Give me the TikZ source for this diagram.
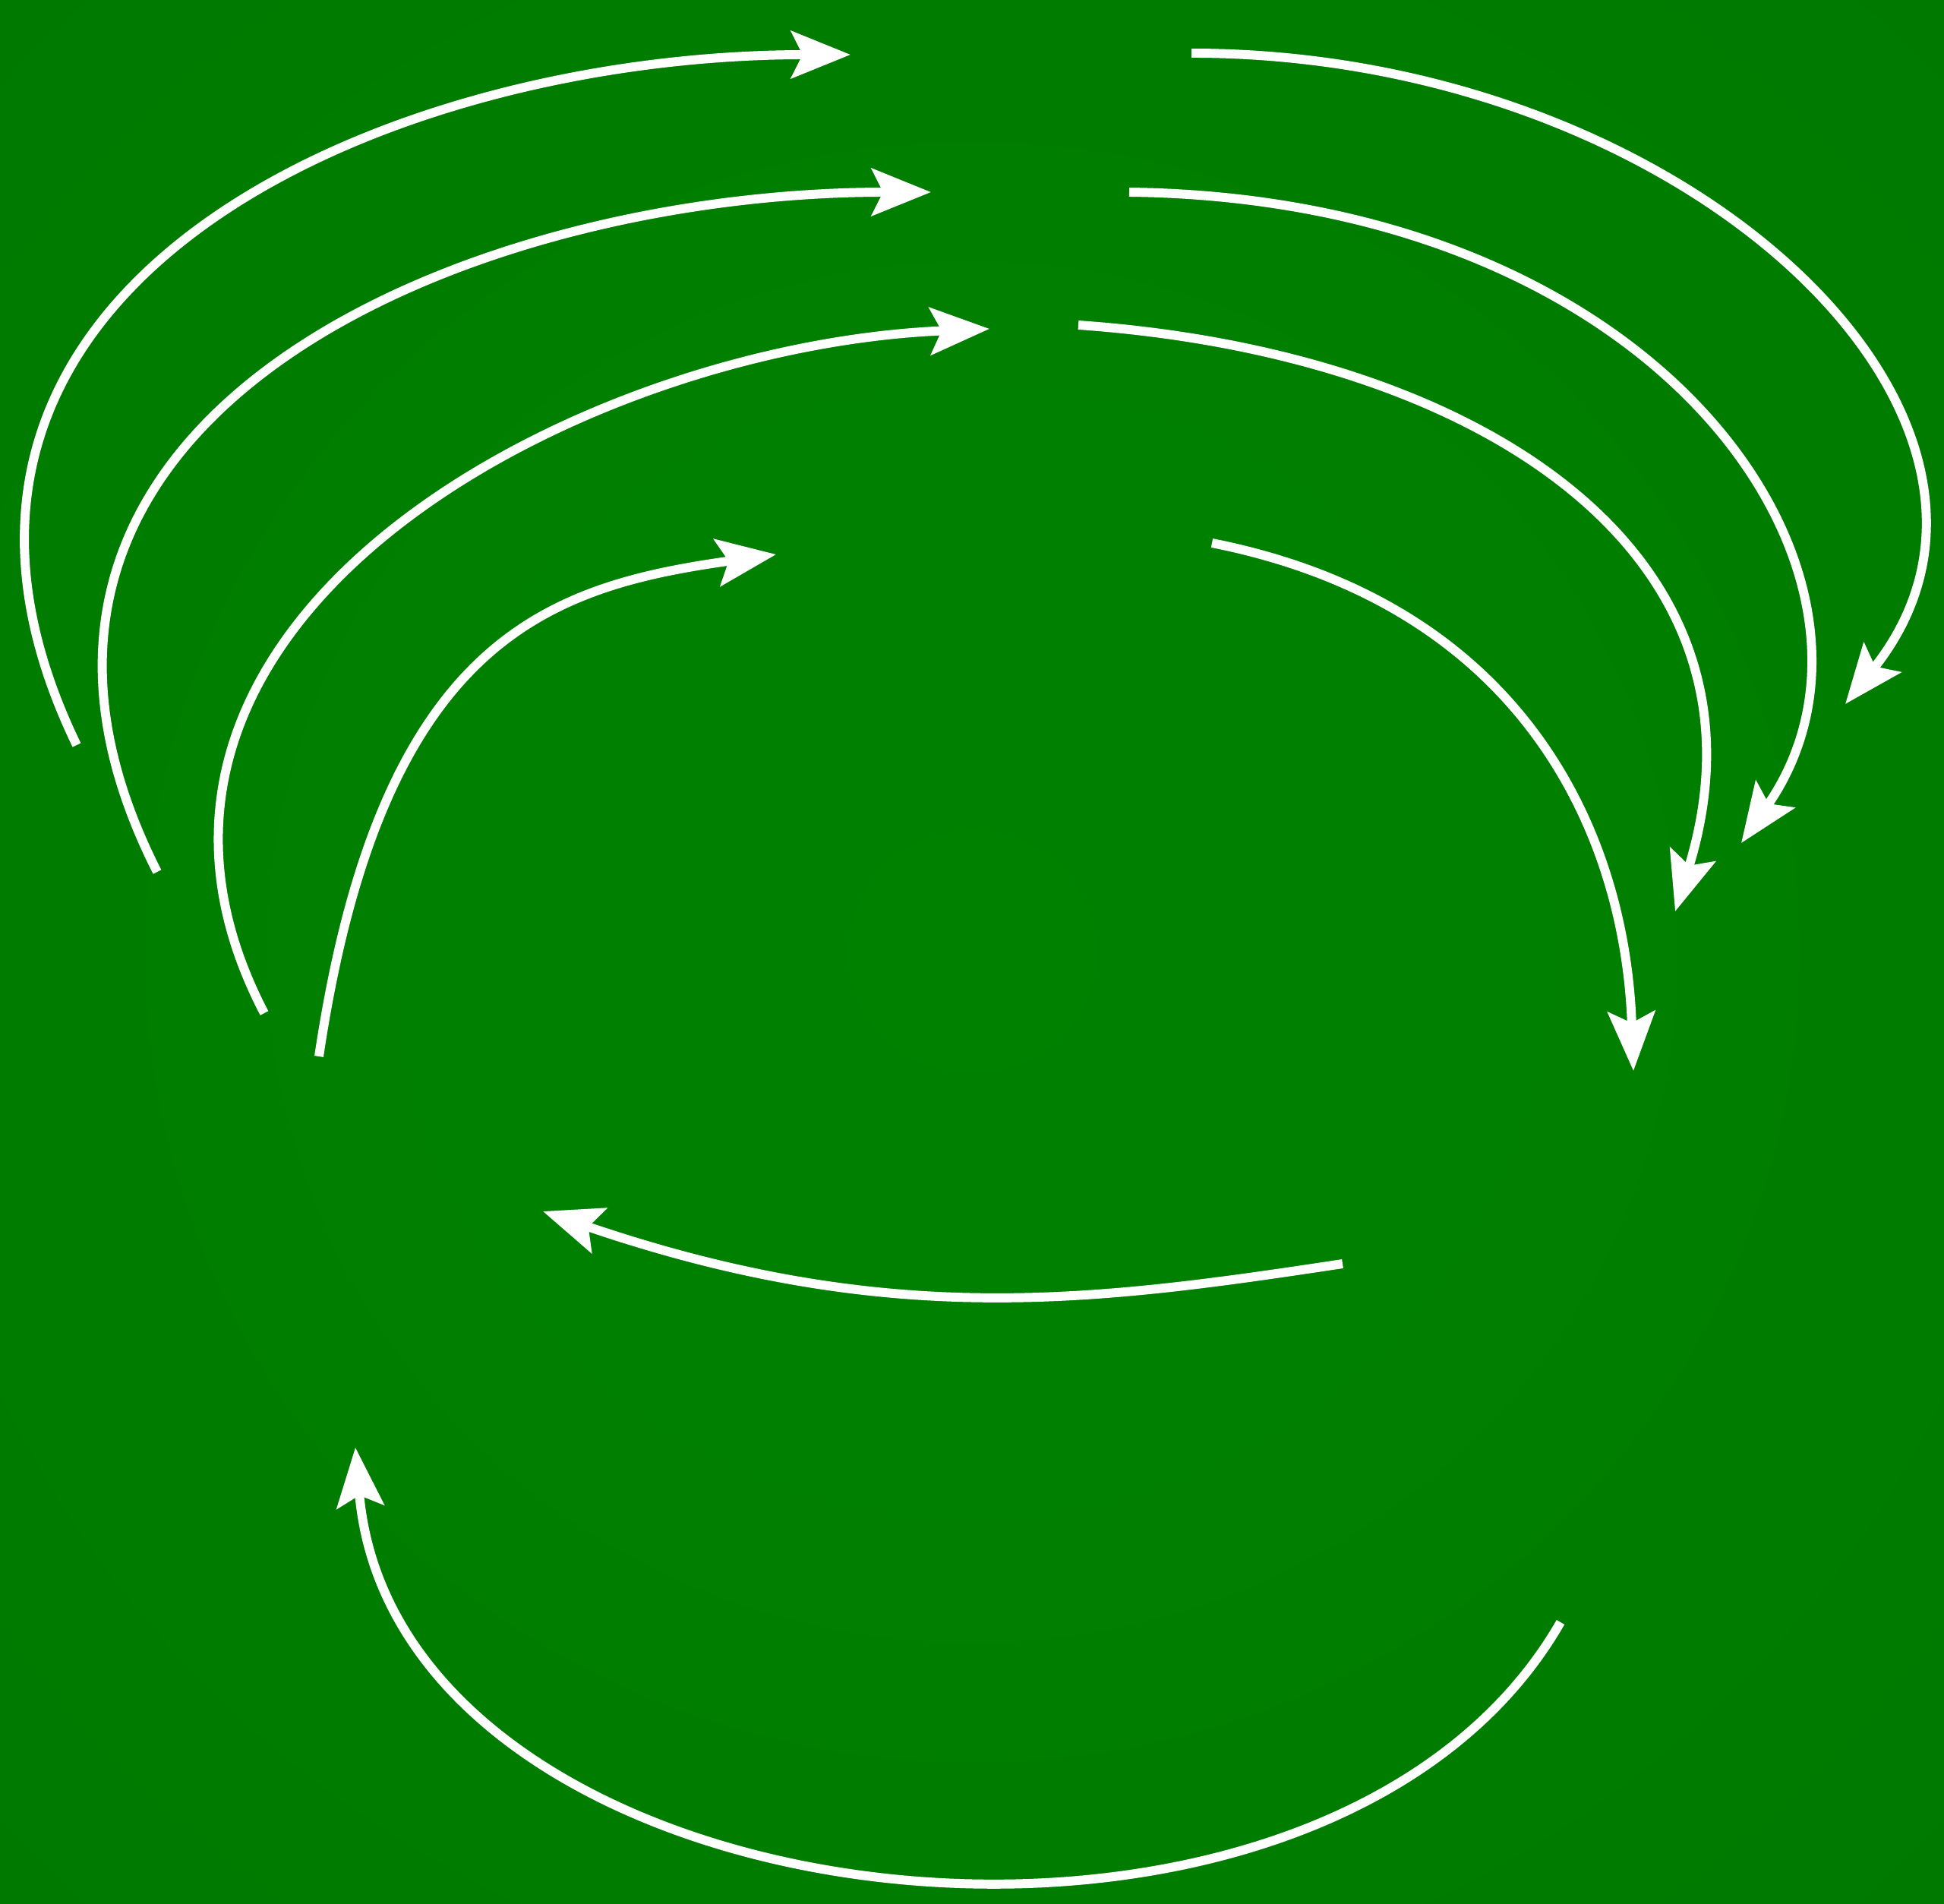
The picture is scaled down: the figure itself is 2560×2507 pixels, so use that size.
\documentclass[tikz,border=0pt]{standalone}
\usetikzlibrary{arrows.meta}
\pgfdeclareradialshading{fieldglow}{\pgfpoint{0bp}{0bp}}{rgb(0bp)=(0,0.505,0); rgb(15bp)=(0,0.5,0); rgb(71bp)=(0,0.43,0)}
\begin{document}
\begin{tikzpicture}[
    x=0.01cm,
    y=-0.01cm,
    >={Stealth[length=7.8mm, width=6.2mm, inset=1.5mm]},
    flow/.style={->, draw=white, line width=3.4pt}
]
\useasboundingbox (0,0) rectangle (2560,2507);
\shade[shading=fieldglow] (0,0) rectangle (2560,2507);

% left fan
\coordinate (l1s) at (101,981);
\coordinate (l1e) at (1120,72);
\coordinate (l2s) at (207,1148);
\coordinate (l2e) at (1226,253);
\coordinate (l3s) at (348,1334);
\coordinate (l3e) at (1303,433);
\coordinate (l4s) at (420,1391);
\coordinate (l4e) at (1022,730);
% right fan
\coordinate (r1s) at (1569,70);
\coordinate (r1e) at (2430,927);
\coordinate (r2s) at (1487,253);
\coordinate (r2e) at (2293,1110);
\coordinate (r3s) at (1420,428);
\coordinate (r3e) at (2206,1200);
\coordinate (r4s) at (1596,715);
\coordinate (r4e) at (2151,1410);
% bottom
\coordinate (b1s) at (1768,1664);
\coordinate (b1e) at (715,1595);
\coordinate (b2s) at (2055,2136);
\coordinate (b2e) at (468,1906);

\draw[flow] (l1s) .. controls (-190,380) and (500,72) .. (l1e);
\draw[flow] (l2s) .. controls (-94,555) and (606,253) .. (l2e);
\draw[flow] (l3s) .. controls (80,820) and (760,455) .. (l3e);
\draw[flow] (l4s) .. controls (502,841) and (722,772) .. (l4e);

\draw[flow] (r1s) .. controls (2219,70) and (2728,553) .. (r1e);
\draw[flow] (r2s) .. controls (2200,262) and (2530,770) .. (r2e);
\draw[flow] (r3s) .. controls (1950,465) and (2351,730) .. (r3e);
\draw[flow] (r4s) .. controls (2000,795) and (2140,1090) .. (r4e);

\draw[flow] (b1s) .. controls (1438,1714) and (1169,1750) .. (b1e);
\draw[flow] (b2s) .. controls (1740,2684) and (522,2543) .. (b2e);
\end{tikzpicture}
\end{document}
